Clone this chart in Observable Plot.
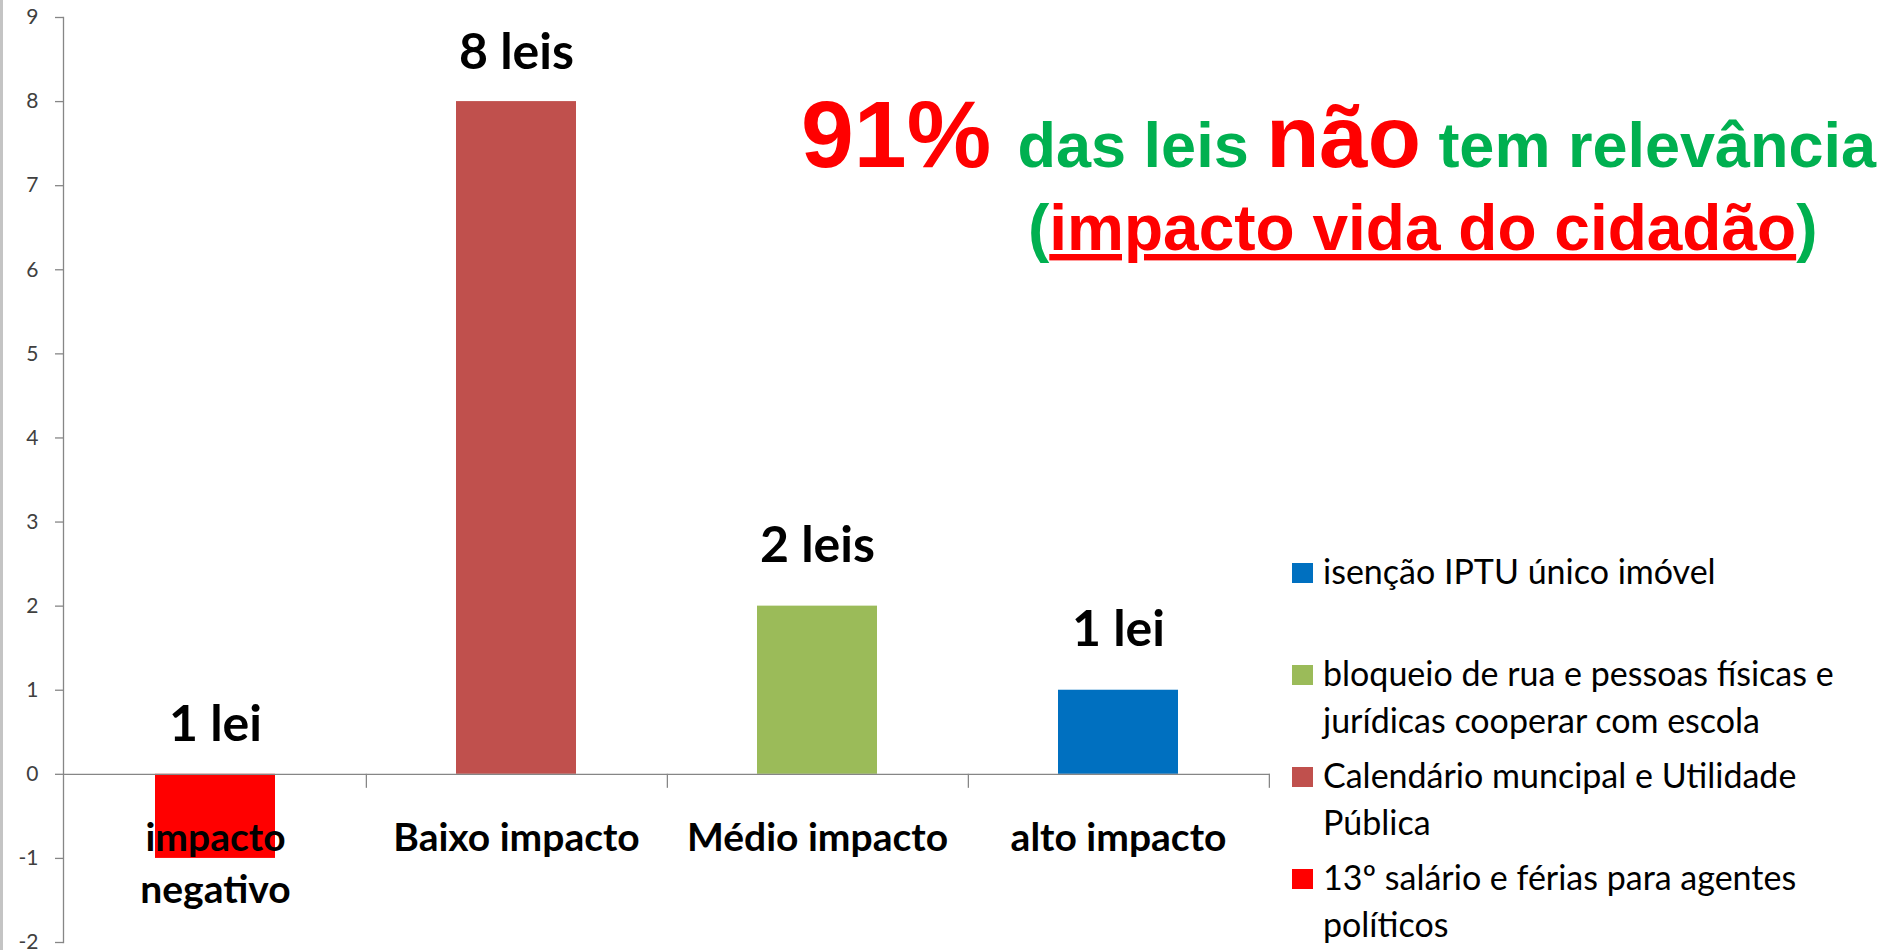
<!DOCTYPE html>
<html>
<head>
<meta charset="utf-8">
<script src="https://cdn.jsdelivr.net/npm/d3@7"></script>
<script src="https://cdn.jsdelivr.net/npm/@observablehq/plot@0.6"></script>
<style>
  html, body { margin: 0; padding: 0; background: #fff; }
  #wrap { position: relative; width: 1888px; height: 950px; overflow: hidden; }
  #edge { position: absolute; left: 0; top: 0; width: 3px; height: 950px; background: #c4c4c4; }
</style>
</head>
<body>
<div id="wrap"><div id="edge"></div></div>
<script>
// ---- data ----
const categories = ["impacto negativo", "Baixo impacto", "Médio impacto", "alto impacto"];
const categoryLabels = ["impacto\nnegativo", "Baixo impacto", "Médio impacto", "alto impacto"];
const values = [-1, 8, 2, 1];
const valueLabels = ["1 lei", "8 leis", "2 leis", "1 lei"];
const barColors = ["#FF0000", "#C0504D", "#9BBB59", "#0070C0"];
const yTicks = [-2, -1, 0, 1, 2, 3, 4, 5, 6, 7, 8, 9];
const legendLabels = [
  "isenção IPTU único imóvel",
  "bloqueio de rua e pessoas físicas e\njurídicas cooperar com escola",
  "Calendário muncipal e Utilidade\nPública",
  "13º salário e férias para agentes\npolíticos"
];
const legendColors = ["#0070C0", "#9BBB59", "#C0504D", "#FF0000"];

const data = categories.map((c, i) => ({cat: c, label: categoryLabels[i], value: values[i], text: valueLabels[i]}));

// ---- layout ----
const W = 1888, H = 950, ML = 63, MR = 618, MT = 17, MB = 8;
const PI = 0.6, PO = 0.3;
const step = (W - ML - MR) / (categories.length - PI + 2 * PO);
const axisColor = "#868686";
const font = "Lato, 'Noto Sans', sans-serif";

const chart = Plot.plot({
  width: W, height: H,
  marginLeft: ML, marginRight: MR, marginTop: MT, marginBottom: MB,
  style: {background: "transparent", fontFamily: font, overflow: "visible"},
  x: {domain: categories, paddingInner: PI, paddingOuter: PO, axis: null},
  y: {domain: [-2, 9], axis: null},
  color: {domain: categories, range: barColors},
  marks: [
    Plot.barY(data, {x: "cat", y: "value", fill: "cat"}),
    Plot.ruleY([0], {stroke: axisColor, strokeWidth: 1.3}),
    Plot.ruleX(categories, {x: d => d, y1: 0, y2: 0, insetBottom: -14, dx: step / 2, stroke: axisColor, strokeWidth: 1.3}),
    Plot.frame({anchor: "left", stroke: axisColor, strokeWidth: 1.3}),
    Plot.tickY(yTicks, {y: d => d, insetLeft: -8, insetRight: W - ML - MR, stroke: axisColor, strokeWidth: 1.3}),
    Plot.text(yTicks, {y: d => d, text: d => d < 0 ? "-" + Math.abs(d) : String(d), frameAnchor: "left",
                       textAnchor: "end", dx: -25, fontSize: 21, fill: "#404040"}),
    Plot.text(data, {x: "cat", y: 0, text: "label", lineAnchor: "top", dy: 40, lineHeight: 1.33,
                     fontSize: 39, fontWeight: "bold", fill: "#000"}),
    Plot.text(data.slice(0, 2), {x: "cat", y: d => Math.max(0, d.value), text: "text", lineAnchor: "bottom", dy: -33,
                     fontSize: 50, fontWeight: "bold", fill: "#000"}),
    Plot.text(data.slice(2), {x: "cat", y: d => Math.max(0, d.value), text: "text", lineAnchor: "bottom", dy: -44,
                     fontSize: 50, fontWeight: "bold", fill: "#000"})
  ]
});

document.getElementById("wrap").appendChild(chart);
const svg = d3.select(chart);

// ---- headline ----
const red = "#FF0000", green = "#00B050";
const head = svg.append("g").attr("font-family", "'Liberation Sans', Arial, sans-serif").attr("font-weight", "bold").attr("text-anchor", "start");
const l1 = head.append("text").attr("x", 801).attr("y", 167);
l1.append("tspan").attr("fill", red).attr("font-size", 95).text("91%\u00a0");
l1.append("tspan").attr("fill", green).attr("font-size", 63).text("das leis ");
l1.append("tspan").attr("fill", red).attr("font-size", 87).text("não");
l1.append("tspan").attr("fill", green).attr("font-size", 63).text(" tem relevância");
const l2 = head.append("text").attr("x", 1028).attr("y", 250).attr("font-size", 64);
l2.append("tspan").attr("fill", green).text("(");
l2.append("tspan").attr("fill", red).attr("text-decoration", "underline").text("impacto vida do cidadão");
l2.append("tspan").attr("fill", green).text(")");

// ---- legend ----
const leg = svg.append("g").attr("font-family", font).attr("font-size", 34).attr("fill", "#000").attr("text-anchor", "start");
legendLabels.forEach((lab, i) => {
  const base = 584 + i * 102;
  leg.append("rect").attr("x", 1292).attr("y", base - 21).attr("width", 21).attr("height", 20).attr("fill", legendColors[i]);
  const t = leg.append("text").attr("x", 1323).attr("y", base);
  lab.split("\n").forEach((line, j) => {
    t.append("tspan").attr("x", 1323).attr("dy", j === 0 ? 0 : 47).text(line);
  });
});
</script>
</body>
</html>
